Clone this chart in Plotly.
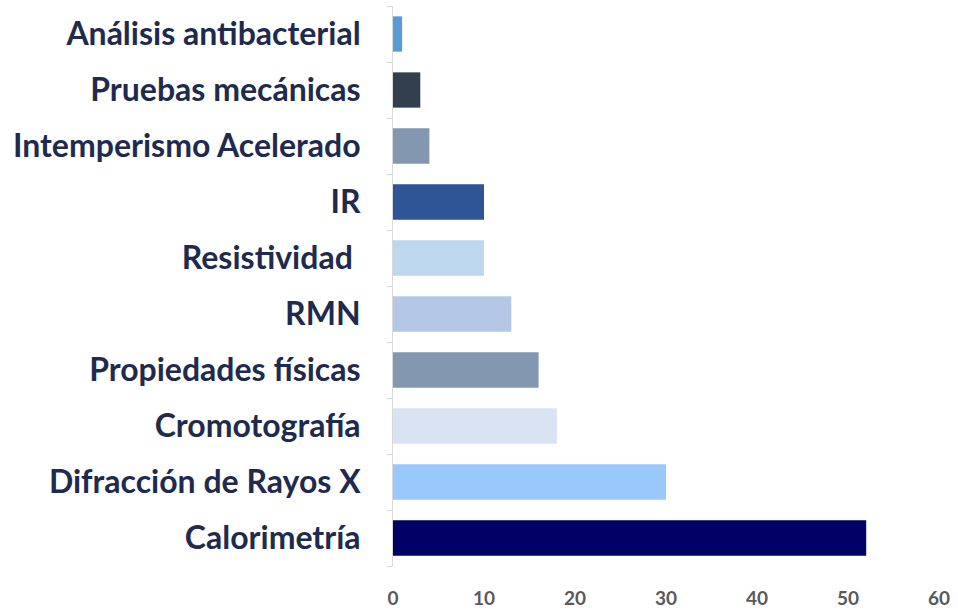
import plotly.graph_objects as go

# categories from bottom to top
categorias = [
    "Calorimetría", "Difracción de Rayos X", "Cromotografía", "Propiedades físicas",
    "RMN", "Resistividad ", "IR", "Intemperismo Acelerado", "Pruebas mecánicas",
    "Análisis antibacterial",
]
valores = [52, 30, 18, 16, 13, 10, 10, 4, 3, 1]
colores = [
    "#000066", "#99c9fa", "#dae3f3", "#8497b0", "#b4c7e7",
    "#bdd7ee", "#2f5597", "#8497b0", "#323f4f", "#5b9bd5",
]
ticks_x = [0, 10, 20, 30, 40, 50, 60]

fig = go.Figure(go.Bar(
    x=valores, y=categorias, orientation="h",
    marker=dict(color=colores, line=dict(width=0)),
    hoverinfo="x+y",
))

fig.update_layout(
    width=958, height=611,
    paper_bgcolor="white", plot_bgcolor="white",
    margin=dict(l=393, r=19, t=6, b=45),
    bargap=0.37, showlegend=False,
    font=dict(family="Lato, Open Sans, sans-serif"),
)
fig.update_xaxes(
    range=[0, 60], tickvals=ticks_x, showgrid=False, zeroline=False,
    showline=False, ticks="", ticklabelstandoff=19, automargin=False,
    tickfont=dict(size=19, color="#595959", family="Lato", weight="bold"),
)
fig.update_yaxes(
    type="category", showgrid=False, zeroline=False,
    showline=True, linecolor="#d9d9d9", linewidth=1,
    ticks="outside", tickson="boundaries", ticklen=6, tickcolor="#d9d9d9",
    ticklabelstandoff=25, automargin=False,
    tickfont=dict(size=32, color="#1f2a4f", family="Lato", weight="bold"),
)

# drop the page's default body margin so the figure fills the window
fig.write_html("out.html", config={"displayModeBar": False},
               post_script="document.body.style.margin='0';")
